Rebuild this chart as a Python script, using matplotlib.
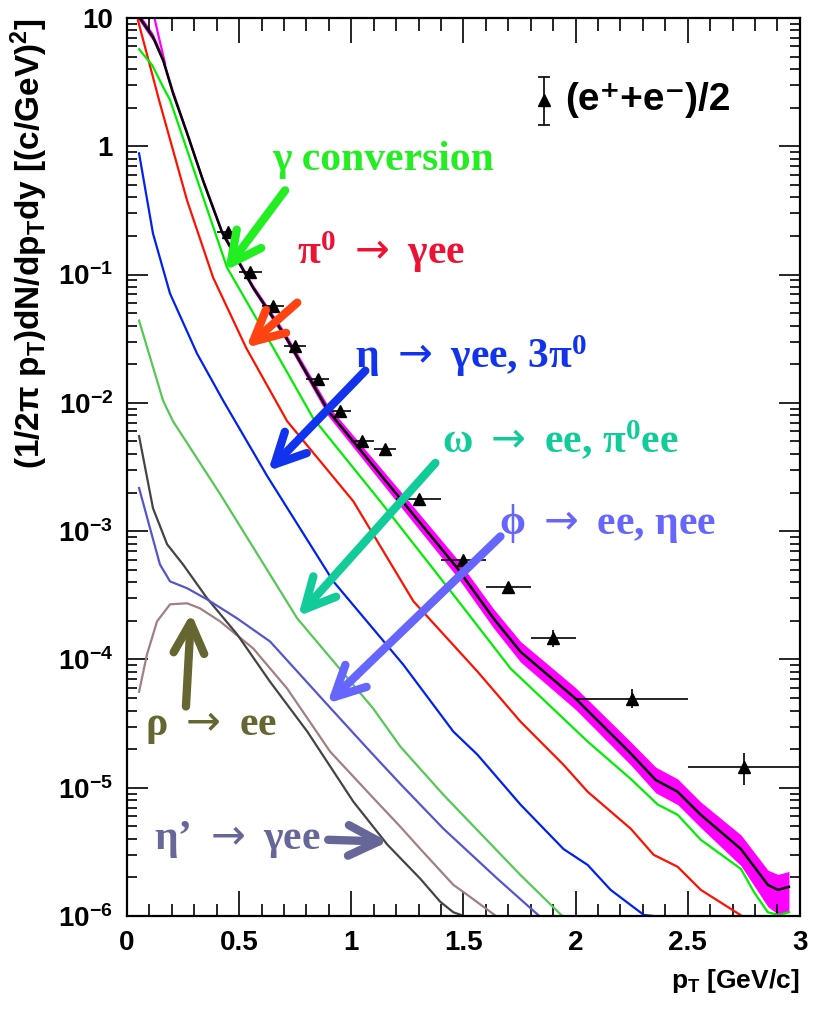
import matplotlib
matplotlib.use("Agg")
import matplotlib.pyplot as plt
import numpy as np
from matplotlib.ticker import MultipleLocator, LogLocator, FixedLocator, NullFormatter

plt.rcParams["mathtext.fontset"] = "custom"
plt.rcParams["mathtext.sf"] = "DejaVu Sans"
plt.rcParams["mathtext.default"] = "regular"

# --- cocktail curves (pT [GeV/c], yield) ---
total_pt = [0.049, 0.116, 0.161, 0.205, 0.268, 0.339, 0.424, 0.5625, 0.705, 0.897, 1.228,
            1.473, 1.634, 1.754, 2.0, 2.246, 2.357, 2.455, 2.558, 2.737, 2.857, 2.902, 2.951]
total_y = [10.5, 7.1, 4.7, 2.6, 1.26, 0.54, 0.213, 0.079, 0.0333, 8.66e-3, 1.71e-3,
           5.14e-4, 2.09e-4, 1.15e-4, 4.95e-5, 1.85e-5, 1.15e-5, 9.3e-6, 6.15e-6, 3.33e-6,
           1.75e-6, 1.6e-6, 1.69e-6]
# systematic band, in decades above / below the sum
band_up = [0.03, 0.03, 0.03, 0.03, 0.025, 0.025, 0.025, 0.025, 0.03, 0.04, 0.06,
           0.07, 0.075, 0.08, 0.085, 0.09, 0.1, 0.1, 0.1, 0.11, 0.115, 0.12, 0.12]
band_dn = [0.03, 0.03, 0.03, 0.025, 0.025, 0.025, 0.025, 0.025, 0.03, 0.04, 0.06,
           0.07, 0.075, 0.08, 0.085, 0.09, 0.1, 0.1, 0.1, 0.13, 0.17, 0.19, 0.19]
# upper edge of the band at the lowest pT, where it leaves the sum
edge_pt = [0.118, 0.125, 0.138, 0.156, 0.170]
edge_y = [12.0, 9.6, 7.6, 5.6, 4.4]

conv_pt = [0.054, 0.112, 0.161, 0.192, 0.446, 0.652, 0.830, 1.129, 1.478, 1.71, 2.054,
           2.246, 2.366, 2.455, 2.558, 2.737, 2.795, 2.857, 2.906, 2.951]
conv_y = [5.7, 4.3, 2.9, 2.3, 0.1135, 0.0269, 7.6e-3, 1.71e-3, 2.84e-4, 8.5e-5, 2.29e-5,
          1.17e-5, 7.4e-6, 6.15e-6, 3.93e-6, 2.33e-6, 1.54e-6, 1.07e-6, 1.02e-6, 1.07e-6]

pi0_pt = [0.049, 0.143, 0.268, 0.384, 0.531, 0.714, 1.009, 1.277, 1.5625, 1.754, 1.946,
          2.054, 2.246, 2.348, 2.455, 2.558, 2.75]
pi0_y = [9.6, 2.29, 0.378, 0.0948, 0.0269, 7.2e-3, 1.71e-3, 2.84e-4, 8.05e-5, 3.28e-5,
         1.51e-5, 9.3e-6, 4.79e-6, 3.0e-6, 2.42e-6, 1.6e-6, 9.8e-7]

eta_pt = [0.054, 0.116, 0.192, 0.3125, 0.429, 0.625, 0.920, 1.232, 1.455, 1.5625, 1.754,
          1.946, 2.054, 2.156, 2.304, 2.348]
eta_y = [0.88, 0.209, 0.0711, 0.0242, 0.0104, 2.69e-3, 4.06e-4, 9.1e-5, 2.74e-5, 1.81e-5,
         7.4e-6, 3.33e-6, 2.5e-6, 1.6e-6, 1.02e-6, 1.0e-6]

omega_pt = [0.054, 0.161, 0.205, 0.415, 0.759, 1.098, 1.219, 1.411, 1.754, 1.946]
omega_y = [0.0438, 0.0104, 7.2e-3, 1.95e-3, 2.09e-4, 4.14e-5, 2.09e-5, 8.8e-6, 2.09e-6, 9.8e-7]

phi_pt = [0.054, 0.103, 0.147, 0.192, 0.268, 0.357, 0.491, 0.638, 0.893, 1.085, 1.219,
          1.411, 1.652, 1.844]
phi_y = [2.17e-3, 1.05e-3, 5.5e-4, 4.06e-4, 3.59e-4, 2.94e-4, 2.09e-4, 1.38e-4, 4.45e-5,
         1.91e-5, 1.07e-5, 4.79e-6, 1.95e-6, 9.8e-7]

etap_pt = [0.054, 0.116, 0.179, 0.25, 0.357, 0.491, 0.638, 0.804, 1.009, 1.161, 1.308,
           1.397, 1.455, 1.518]
etap_y = [5.5e-3, 1.51e-3, 7.9e-4, 5.5e-4, 3.0e-4, 1.57e-4, 6.7e-5, 2.74e-5, 7.8e-6,
          3.6e-6, 1.95e-6, 1.29e-6, 1.07e-6, 9.8e-7]

rho_pt = [0.054, 0.089, 0.134, 0.192, 0.268, 0.326, 0.415, 0.5625, 0.714, 0.906, 1.085,
          1.219, 1.308, 1.455, 1.518, 1.652]
rho_y = [5.6e-5, 1.09e-4, 1.98e-4, 2.69e-4, 2.74e-4, 2.5e-4, 1.98e-4, 1.22e-4, 5.93e-5,
         1.91e-5, 8.8e-6, 4.96e-6, 3.33e-6, 1.75e-6, 1.46e-6, 9.8e-7]

# --- measured (e+ + e-)/2 ---
data_pt = [0.45, 0.55, 0.65, 0.75, 0.85, 0.95, 1.05, 1.15, 1.3, 1.5, 1.7, 1.9, 2.25, 2.75]
data_y = [0.213, 0.104, 0.057, 0.0279, 0.0154, 8.66e-3, 5.05e-3, 4.37e-3, 1.78e-3,
          6.0e-4, 3.7e-4, 1.46e-4, 4.95e-5, 1.46e-5]
data_xerr = [0.05, 0.05, 0.05, 0.05, 0.05, 0.05, 0.05, 0.05, 0.1, 0.1, 0.1, 0.1, 0.25, 0.25]
data_yerr_lo = [0, 0, 0, 0, 0, 0, 0, 0, 0, 0, 0, 2.0e-5, 0.8e-5, 0.41e-5]
data_yerr_hi = [0, 0, 0, 0, 0, 0, 0, 0, 0, 0, 0, 2.3e-5, 0.9e-5, 0.39e-5]

ytick_vals = [1e-6, 1e-5, 1e-4, 1e-3, 1e-2, 1e-1, 1, 10]
ytick_labels = ["10$^{-6}$", "10$^{-5}$", "10$^{-4}$", "10$^{-3}$", "10$^{-2}$",
                "10$^{-1}$", "1", "10"]
xtick_vals = [0, 0.5, 1, 1.5, 2, 2.5, 3]
xtick_labels = ["0", "0.5", "1", "1.5", "2", "2.5", "3"]

fig = plt.figure(figsize=(8.17, 10.21), dpi=100)
ax = fig.add_axes([0.1554, 0.1028, 0.8237, 0.8796])
ax.set_yscale("log")
ax.set_xlim(0, 3)
ax.set_ylim(1e-6, 10)

# component curves
ax.plot(rho_pt, rho_y, color="#a08080", lw=1.6)
ax.plot(etap_pt, etap_y, color="#444444", lw=1.6)
ax.plot(phi_pt, phi_y, color="#5555cc", lw=1.6)
ax.plot(omega_pt, omega_y, color="#55c855", lw=1.6)
ax.plot(eta_pt, eta_y, color="#0022ee", lw=1.6)
ax.plot(pi0_pt, pi0_y, color="#ff1100", lw=1.6)
ax.plot(conv_pt, conv_y, color="#00ee00", lw=1.6)

# total with systematic band
tot = np.array(total_y)
ax.fill_between(total_pt, tot / 10 ** np.array(band_dn), tot * 10 ** np.array(band_up),
                color="#ff00ff", lw=0)
ax.plot(edge_pt, edge_y, color="#ff00ff", lw=1.6)
ax.plot(total_pt, total_y, color="black", lw=1.8)

# data
ax.errorbar(data_pt, data_y, xerr=data_xerr, yerr=[data_yerr_lo, data_yerr_hi],
            fmt="^", color="black", ms=8.5, elinewidth=1.2, capsize=0)

# legend entry
ax.errorbar([1.857], [2.29], yerr=[[0.83], [1.17]], fmt="^", color="black", ms=8.5,
            elinewidth=1.2, capsize=4, capthick=1.2)
ax.text(1.955, 2.29, "(e⁺+e⁻)/2", fontsize=28, fontweight="bold",
        family=["Liberation Sans", "DejaVu Sans"], va="center", ha="left")

# labels with arrows
ARR = r"$\mathsf{\rightarrow}$"
labels = [
    ("γ conversion", 1.143, 0.78, "#22ee22", (0.705, 0.453), (0.4375, 0.107)),
    ("π$^{0}$ " + ARR + " γee", 1.13, 0.149, "#ee1133", (0.759, 0.0604), (0.531, 0.0269)),
    ("η " + ARR + " γee, 3π$^{0}$", 1.536, 0.0233, "#1133ee", (1.0625, 0.0178), (0.629, 2.94e-3)),
    ("ω " + ARR + " ee, π$^{0}$ee", 1.93, 5.05e-3, "#11cc99", (1.375, 3.4e-3), (0.763, 2.17e-4)),
    ("ϕ " + ARR + " ee, ηee", 2.143, 1.15e-3, "#6666ff", (1.665, 9.1e-4), (0.893, 4.53e-5)),
    ("ρ " + ARR + " ee", 0.375, 3.0e-5, "#666633", (0.263, 4.3e-5), (0.286, 2.29e-4)),
    ("η’ " + ARR + " γee", 0.49, 3.93e-6, "#666699", (0.897, 3.93e-6), (1.165, 3.8e-6)),
]
arrow_cols = {0: "#22ee22", 1: "#ff4411"}
for i, (txt, tx, ty, col, tail, tip) in enumerate(labels):
    ax.text(tx, ty, txt, color=col, fontsize=30, fontweight="bold", family="Liberation Serif",
            ha="center", va="center")
    ax.annotate("", xy=tip, xytext=tail,
                arrowprops=dict(arrowstyle="->,head_length=1.1,head_width=0.55",
                                color=arrow_cols.get(i, col), lw=6,
                                mutation_scale=20, shrinkA=0, shrinkB=0))

# axes styling
ax.xaxis.set_major_locator(FixedLocator(xtick_vals))
ax.set_xticklabels(xtick_labels)
ax.xaxis.set_minor_locator(MultipleLocator(0.1))
ax.yaxis.set_major_locator(FixedLocator(ytick_vals))
ax.set_yticklabels(ytick_labels)
ax.yaxis.set_minor_locator(LogLocator(base=10, subs=np.arange(2, 10)))
ax.yaxis.set_minor_formatter(NullFormatter())
ax.tick_params(which="both", direction="in", top=True, right=True, width=1.2)
ax.tick_params(axis="x", which="major", length=18, pad=10)
ax.tick_params(axis="x", which="minor", length=9)
ax.tick_params(axis="y", which="major", length=15, pad=10)
ax.tick_params(axis="y", which="minor", length=7)
for lab in ax.get_xticklabels() + ax.get_yticklabels():
    lab.set_fontsize(20)
    lab.set_fontweight("bold")
    lab.set_family("Liberation Sans")
for sp in ax.spines.values():
    sp.set_linewidth(1.6)

ax.set_xlabel("p$_T$ [GeV/c]", fontsize=19, fontweight="bold", family="Liberation Sans",
              loc="right", labelpad=8)
ax.set_ylabel("(1/2π p$_T$)dN/dp$_T$dy [(c/GeV)$^2$]", fontsize=24, fontweight="bold",
              family=["Liberation Sans Narrow", "Liberation Sans"], loc="top", labelpad=6)

fig.savefig("out.png", dpi=100)
